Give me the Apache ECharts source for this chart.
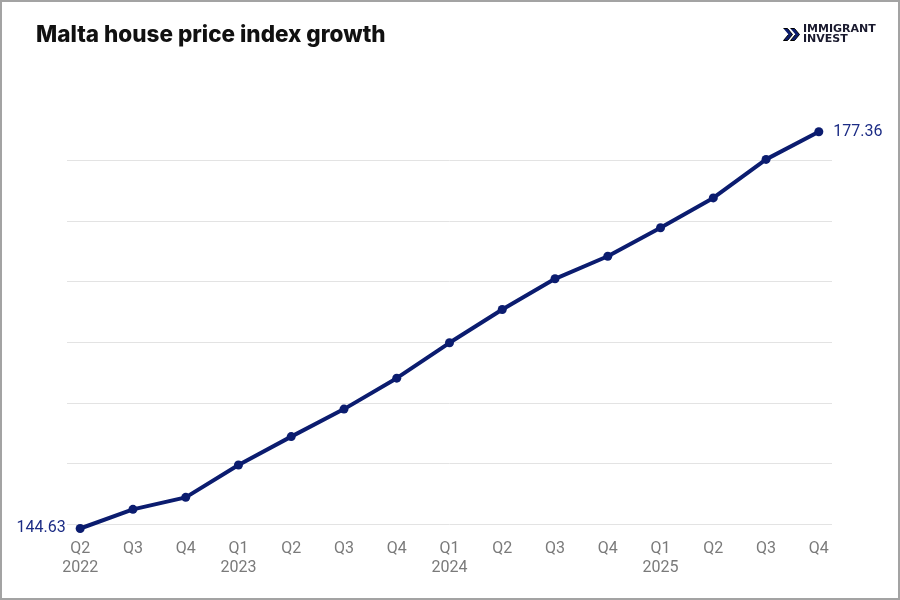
<!DOCTYPE html>
<html>
<head>
<meta charset="utf-8">
<script src="https://cdn.jsdelivr.net/npm/echarts@6/dist/echarts.min.js"></script>
<style>
  html, body { margin: 0; padding: 0; background: #fff; }
  #chart { width: 900px; height: 600px; }
  #frame { position: absolute; left: 0; top: 0; width: 900px; height: 600px; box-sizing: border-box; border: 2px solid #a3a3a3; pointer-events: none; }
</style>
</head>
<body>
<div id="chart"></div>
<div id="frame"></div>
<script>
const quarters = ['Q2', 'Q3', 'Q4', 'Q1', 'Q2', 'Q3', 'Q4', 'Q1', 'Q2', 'Q3', 'Q4', 'Q1', 'Q2', 'Q3', 'Q4'];
const years = ['2022', '', '', '2023', '', '', '', '2024', '', '', '', '2025', '', '', ''];
const indexValues = [144.63, 146.21, 147.2, 149.87, 152.21, 154.48, 157.03, 159.95, 162.7, 165.23, 167.09, 169.44, 171.9, 175.08, 177.36];

const navy = '#0b1c6f';
const chart = echarts.init(document.getElementById('chart'));

const lastIdx = indexValues.length - 1;
const points = indexValues.map((v, i) => {
    const p = { value: [i, v] };
    if (i === 0) {
        p.label = { show: true, position: 'left', distance: 10 };
    } else if (i === lastIdx) {
        p.label = { show: true, position: 'right', distance: 10 };
    }
    return p;
});

chart.setOption({
    animation: false,
    title: {
        text: 'Malta house price index growth',
        left: 31,
        top: 19,
        textStyle: { fontFamily: 'Inter', fontWeight: 800, fontSize: 22.5, color: '#111' }
    },
    graphic: [
        {
            type: 'polyline',
            left: 783, top: 28,
            shape: { points: [[0, 0], [4, 0], [9, 6], [4, 12], [0, 12], [5, 6]] },
            style: { fill: navy }
        },
        {
            type: 'polyline',
            left: 790, top: 28,
            shape: { points: [[0, 0], [4, 0], [9, 6], [4, 12], [0, 12], [5, 6]] },
            style: { fill: navy }
        },
        {
            type: 'text',
            left: 803, top: 24,
            style: { text: 'IMMIGRANT\nINVEST', fontFamily: 'DejaVu Sans', fontWeight: 'bold', fontSize: 11, lineHeight: 10, fill: '#1a1a2e' }
        }
    ],
    grid: { left: 67, right: 68, top: 124, bottom: 67.5 },
    xAxis: {
        type: 'value',
        min: -0.25,
        max: 14.25,
        minInterval: 1,
        maxInterval: 1,
        splitLine: { show: false },
        axisLine: { show: false },
        axisTick: { show: false },
        axisLabel: {
            showMinLabel: false,
            showMaxLabel: false,
            margin: 7,
            fontFamily: 'Roboto',
            fontSize: 16,
            lineHeight: 19,
            color: '#7a7a7a',
            formatter: (v) => {
                const i = Math.round(v);
                if (Math.abs(i - v) > 1e-6 || !quarters[i]) return '';
                return years[i] ? quarters[i] + '\n' + years[i] : quarters[i];
            }
        }
    },
    yAxis: {
        type: 'value',
        min: 144.3,
        max: 178,
        minInterval: 5,
        maxInterval: 5,
        axisLabel: { show: false },
        axisLine: { show: false },
        axisTick: { show: false },
        splitLine: {
            show: true,
            showMinLine: false,
            showMaxLine: false,
            lineStyle: { color: '#e3e3e3', width: 1 }
        }
    },
    series: [{
        type: 'line',
        data: points,
        symbol: 'circle',
        symbolSize: 9,
        lineStyle: { color: navy, width: 4 },
        itemStyle: { color: navy },
        label: {
            show: false,
            fontFamily: 'Roboto',
            fontSize: 16,
            color: '#1c2c85',
            formatter: (p) => p.value[1].toFixed(2)
        }
    }]
});
</script>
</body>
</html>
